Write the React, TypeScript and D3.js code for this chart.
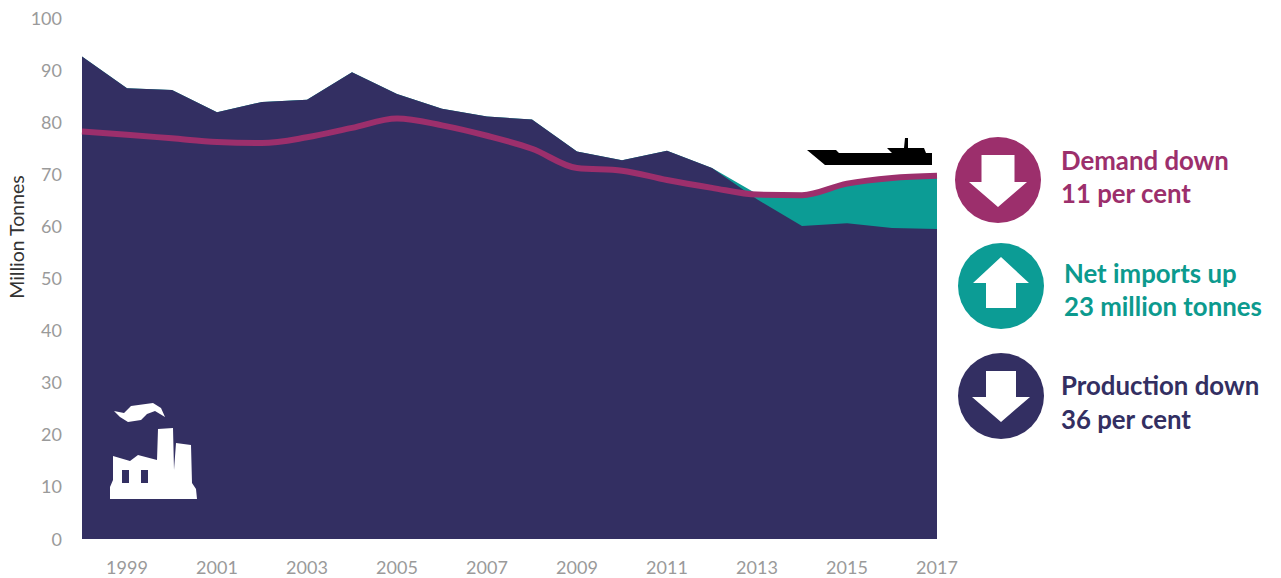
import React from "react";
import * as d3 from "d3";

// Annual supply and demand balance, million tonnes
const years = [1998,1999,2000,2001,2002,2003,2004,2005,2006,2007,2008,2009,2010,2011,2012,2013,2014,2015,2016,2017];
const production = [92.6,86.5,86.2,81.9,83.9,84.3,89.6,85.4,82.6,81.1,80.5,74.4,72.7,74.5,71.2,65.2,60.1,60.6,59.7,59.5];
const supply = [92.6,86.5,86.2,81.9,83.9,84.3,89.6,85.4,82.6,81.1,80.5,74.4,72.7,74.5,71.2,66.2,65.9,68.1,69.2,69.5];
const demand = [78.2,77.6,76.9,76.2,76.0,77.1,78.9,80.7,79.4,77.4,74.9,71.2,70.7,68.9,67.4,66.1,66.0,68.2,69.3,69.7];
const yTicks = [0,10,20,30,40,50,60,70,80,90,100];
const xTicks = [1999,2001,2003,2005,2007,2009,2011,2013,2015,2017];
const callouts = [
  { lines: ["Demand down", "11 per cent"], colour: "#9c2f6c", ink: "#9c2f6c" },
  { lines: ["Net imports up", "23 million tonnes"], colour: "#0c9c95", ink: "#0c9a8e" },
  { lines: ["Production down", "36 per cent"], colour: "#332f62", ink: "#332f62" },
];
const calloutCentres = [[998, 180], [1001, 286], [1001, 396]];
const calloutText = [[1061, 169.5], [1064, 282.5], [1061, 395]];
const calloutArrows = [
  [[-16.5,-25],[16.5,-25],[16.5,2],[29,2],[0,27],[-29,2],[-16.5,2]],
  [[-15,22],[15,22],[15,-3],[28,-3],[0,-29],[-28,-3],[-15,-3]],
  [[-15,-25],[15,-25],[15,1],[29,1],[0,26],[-29,1],[-15,1]],
];

const FONT = "Lato, Carlito, 'Open Sans', sans-serif";
const x = d3.scaleLinear().domain([1998, 2017]).range([82, 937]);
const y = d3.scaleLinear().domain([0, 100]).range([539, 18]);

const area = (top: number[]) =>
  d3.area<number>().x((_, i) => x(years[i])).y0(y(0)).y1((d) => y(d))(top) ?? "";
const demandLine = d3.line<number>().x((_, i) => x(years[i])).y((d) => y(d)).curve(d3.curveMonotoneX)(demand) ?? "";

export default function App() {
  return (
    <svg width={1281} height={578} style={{ position: "absolute", left: 0, top: 0, background: "#fff" }} fontFamily={FONT}>
      <path d={area(supply)} fill="#0c9c95" />
      <path d={area(production)} fill="#332f62" />
      <path d={demandLine} fill="none" stroke="#9c2f6c" strokeWidth={6} />

      {yTicks.map((t) => (
        <text key={t} x={62} y={y(t) + 6.5} textAnchor="end" fontSize={18} fill="#9a9a9a">{t}</text>
      ))}
      {xTicks.map((t) => (
        <text key={t} x={x(t)} y={574} textAnchor="middle" fontSize={18} fill="#9a9a9a">{t}</text>
      ))}
      <text transform="translate(24,237) rotate(-90)" textAnchor="middle" fontSize={19.5} fill="#333">Million Tonnes</text>

      {/* Tanker icon */}
      <path fill="#000" d="M807 150 L836 150 L839 153 L892 153 L887 148 L904 148 L905 138 L908 138 L908 148 L924 148 L926 153 L932 153 L932 165 L825 165 Z" />

      {/* Factory icon */}
      <g fill="#fff">
        <path d="M113 456 L130 461 L138 455 L157 460 L158 429 L173 428 L174 470 L176 443 L191 445 L192 483 L196 489 L197 499 L110 499 L110 487 L113 480 Z" />
        <path d="M114 411 L124 413 L131 406 L153 403 L161 408 L165 417 L155 411 L147 414 L141 420 L128 422 L120 417 Z" />
      </g>
      <rect x={122} y={470} width={7} height={13} fill="#332f62" />
      <rect x={141} y={470} width={7} height={13} fill="#332f62" />

      {callouts.map((c, i) => {
        const [cx, cy] = calloutCentres[i];
        const [tx, ty] = calloutText[i];
        const pts = calloutArrows[i].map(([px, py]) => `${cx + px},${cy + py}`).join(" ");
        return (
          <g key={c.lines[0]}>
            <circle cx={cx} cy={cy} r={43} fill={c.colour} />
            <polygon points={pts} fill="#fff" />
            <text x={tx} y={ty} fontSize={25.8} fontWeight={700} fill={c.ink}>{c.lines[0]}</text>
            <text x={tx} y={ty + 33.5} fontSize={25.8} fontWeight={700} fill={c.ink}>{c.lines[1]}</text>
          </g>
        );
      })}
    </svg>
  );
}
